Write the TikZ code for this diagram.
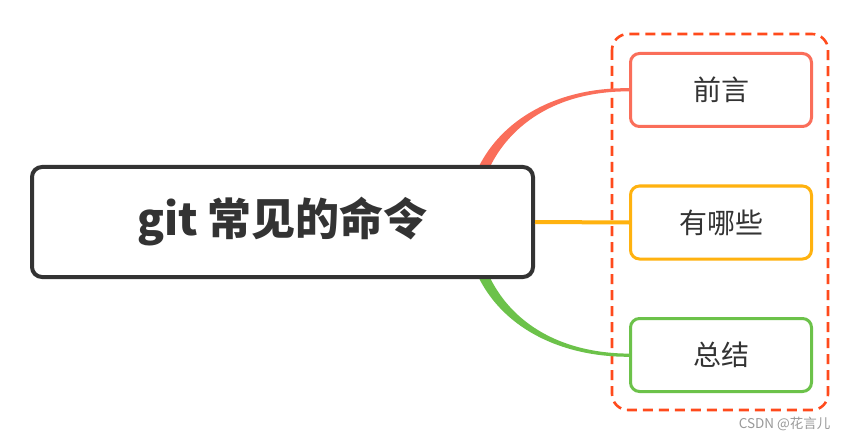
\documentclass[tikz,border=0pt]{standalone}
\usepackage{fontspec}
\setmainfont{Noto Sans CJK SC}
\usetikzlibrary{calc}
\definecolor{ctext}{HTML}{333333}
\definecolor{cred}{HTML}{FA6E5A}
\definecolor{corange}{HTML}{FFB20F}
\definecolor{cgreen}{HTML}{6CC24A}
\definecolor{cdash}{HTML}{FF4A1C}
\definecolor{cmark}{HTML}{999999}
\begin{document}
\begin{tikzpicture}[x=1pt,y=-1pt,
  mainbox/.style={draw=ctext,line width=4pt,rounded corners=10pt,fill=white,
    minimum width=501pt,minimum height=110pt,inner sep=0pt,text=ctext,
    font=\fontsize{44}{48}\selectfont\bfseries},
  childbox/.style={line width=3pt,rounded corners=9pt,fill=white,
    minimum width=181pt,minimum height=73pt,inner sep=0pt,text=ctext,
    font=\fontsize{28}{32}\selectfont}]
\useasboundingbox (0,0) rectangle (849,441);
\fill[white] (0,0) rectangle (849,441);
% group frame
\draw[cdash,line width=2.6pt,rounded corners=16pt,dash pattern=on 10pt off 6pt]
  (612,34) rectangle (828,410);
\coordinate (m) at (282.5,222);
\coordinate (c1) at (721,90);
\coordinate (c2) at (721,222.5);
\coordinate (c3) at (721,355);
\coordinate (r0) at (470,222);
% red connector (tapered)
\fill[cred] ($(r0)+(-5.5,0)$) .. controls (469,137) and (540,87) .. ($(c1)+(-92,-1.8)$)
  -- ($(c1)+(-92,1.4)$) .. controls (540,90.8) and (481,143) .. ($(r0)+(5.5,0)$) -- cycle;
% green connector (tapered)
\fill[cgreen] ($(r0)+(-5.5,0)$) .. controls (469,308) and (540,357) .. ($(c3)+(-92,1.8)$)
  -- ($(c3)+(-92,-1.4)$) .. controls (540,353.2) and (481,302) .. ($(r0)+(5.5,0)$) -- cycle;
\node[mainbox] (main) at (m) {git 常见的命令};
\node[childbox,draw=cred] (n1) at (c1) {前言};
\node[childbox,draw=corange] (n2) at (c2) {有哪些};
\node[childbox,draw=cgreen] (n3) at (c3) {总结};
\draw[corange,line width=4pt] (main.east) -- (n2.west);
\node[text=cmark,font=\fontsize{13.5}{15}\selectfont,anchor=east] (wm) at (834,424) {CSDN @花言儿};
\end{tikzpicture}
\end{document}
